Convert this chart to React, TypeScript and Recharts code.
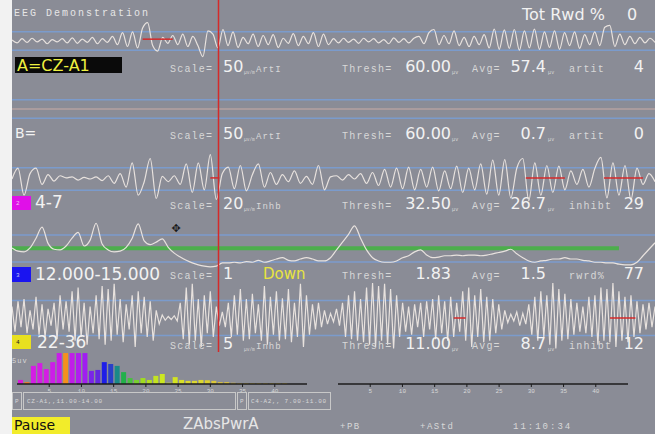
import React from 'react';
import { LineChart, Line, XAxis, YAxis, ReferenceLine, BarChart, Bar, Cell } from 'recharts';

const BG = '#8a8c96';
const BLUE = '#7b9bcc';
const RED = '#d42a2a';
const TRACE = '#e8e2de';
const LIGHT = '#d8d8d8';
const SANS = '"DejaVu Sans", sans-serif';
const MONO = '"Liberation Mono", monospace';

// raw EEG, channel A (uV), one sample every ~5px
const traceA = [
  2, -4, 5, -3, 6, -2, 4, -6, 3, -2, 5, -4, 7, -5, 4, -3, 8, -6, 5, -3,
  10, -8, 18, -12, 20, -15, 28,
  40, -10, -22, 8, -5, 12, -8, 15, -12, 10, -10, -34, 22, 15, -15, 25, -10, 20, -14, 8,
  -6, 15, -12, 12, -8, 14, -14, 6, -5, 16, -10, 10, -6, 18, -12, 15, -8,
  5, -4, 6, -3, 4, -5, 6, -2, 5, -4, 3, -6, 7, -3, 5, -4, 6,
  10, -6, 18, 25, -8, 12, -6, 22, -10, 8, -12, 10, -8, 14, -15, 26, -18, 24, -16, 25,
  -20, 22, -15, 26, -18, 20, -14, 22, -18, 18, -10, 20, -16, 14, -8, 20, -10, 30, 34, -12,
  15, -8, 10, -6, 8, -4, 6, -3,
];
// channel B is flat
const traceB = [0, 0, 0, 0, 0, 0];
// 4-7 Hz filtered, one sample every ~6px
const traceTheta = [
  0, 20, -30, 10, 20, -10, 8, -4, 6, 2,
  4, -2, 3, 0, 4, -3, 6, -8, 10, -15,
  30, -30, -5, 38, -36, 5, -5, 6, -10, 28,
  -25, 30, -20, 45, -38, 10, 22, -18, 25, -22,
  8, 28, -15, 12, -10, 8, -5, 15, -8, 5,
  -10, 25, -20, 4, 6, -2, 8, 0, 10, -8,
  12, -12, 18, -15, 20, -18, 22, -20, 18, -15,
  22, -22, 15, -18, 24, -25, 20, -20, 28, -28,
  35, -30, 36, -35, 20, 38, -40, 30, -30, 25,
  -25, 24, -20, 15, -10, 18, -15, 20, 40, -35,
  30, -30, 25, -38, 20, -10, 10, -5,
];
// 12-15 Hz magnitude, one sample every ~6px
const traceSmr = [
  1.85, 1.6, 1.55, 1.85, 2.6, 3.45, 2.2, 1.75, 1.7, 2.0,
  2.6, 3.05, 2.0, 2.45, 3.75, 2.15, 1.7, 1.55, 1.6, 1.9,
  2.6, 3.7, 2.4, 2.1, 2.3, 2.55, 1.9, 1.45, 1.15, 0.9,
  0.7, 0.55, 0.45, 0.4, 0.45, 0.7, 0.7, 0.75, 0.7, 0.8,
  0.75, 0.9, 0.75, 0.85, 1.0, 1.1, 0.9, 0.85, 1.0, 1.1,
  1.0, 0.85, 0.85, 1.1, 1.7, 2.3, 2.9, 3.55, 2.6, 1.7,
  1.1, 0.85, 0.75, 0.75, 0.85, 1.1, 1.25, 1.55, 1.7, 1.3,
  1.1, 1.15, 1.25, 1.25, 1.3, 1.25, 1.3, 1.3, 1.25, 1.3,
  1.4, 1.5, 1.6, 1.75, 1.4, 1.1, 0.85, 0.75, 0.85, 0.9,
  1.0, 1.0, 1.1, 1.0, 1.0, 0.9, 0.85, 0.75, 0.75, 0.7,
  0.7, 0.6, 0.55, 0.55, 0.75, 1.25, 1.75, 2.25,
];
// 22-36 Hz filtered, one sample every 3px
const traceBeta = [
  15, -18, 22, -12, 25, -20, 10, -15, 28, -22,
  18, -25, 12, -10, 20, -28, 30, -15, 22, -18,
  35, -30, 40, -25, 20, -35, 15, -20, 30, -28,
  42, -35, 38, -30, 45, -22, 25, -32, 18, -15,
  30, -38, 35, -20, 28, -25, 22, -30, 10, -8,
  4, -3, 2, -2, 3, -4, 20, -28, 40, -35,
  45, -30, 25, -38, 30, -20, 35, -25, 15, -10,
  8, -12, 20, -25, 30, -22, 38, -30, 25, -28,
  32, -20, 18, -30, 42, -35, 28, -22, 35, -30,
  26, -28, 38, -32, 20, -25, 45, -38, 30, -22,
  18, -15, 20, -12, 10, -8, 6, -5, 12, -10,
  20, -25, 30, -28, 35, -30, 25, -32, 40, -35,
  46, -38, 42, -30, 45, -35, 38, -40, 30, -25,
  20, -18, 15, -22, 18, -12, 20, -25, 22, -15,
  25, -28, 30, -20, 22, -30, 28, -25, 20, -18,
  35, -30, 40, -38, 30, -25, 38, -32, 28, -30,
  25, -20, 18, -15, 10, -6, 5, -4, 8, -10,
  6, -8, 18, -22, 28, -30, 35, -25, 30, -35,
  46, -40, 38, -30, 32, -28, 25, -22, 20, -18,
  15, -20, 28, -25, 30, -35, 40, -30, 38, -32,
  46, -38, 35, -30, 28, -32, 30, -25, 22, -20,
  18, -15, 20, -12, 15,
];

// spectrum, 1 Hz bins (uV)
const specBins = [
  1, 2, 3, 4, 5, 6, 7, 8, 9, 10, 11, 12, 13, 14, 15, 16, 17, 18, 19, 20, 21,
  22, 23, 24, 25, 26, 27, 28, 29, 30, 31, 32, 33, 34, 35, 36, 37, 38, 39, 40, 41, 42,
];
const specA = [
  0.65, 0.3, 2.9, 3.35, 2.4, 3.5, 4.95, 4.95, 4.95, 4.95, 4.95, 2.1, 2.25, 3.5, 3.2, 2.9, 1.9,
  0.95, 0.65, 0.95, 0.65, 1.3, 1.6, 0.2, 1.1, 0.65, 0.5, 0.5, 0.65, 0.6, 0.5, 0.3, 0.3, 0.2,
  0.15, 0.15, 0.15, 0.15, 0.15, 0.15, 0.15, 0.15,
];
const specB = [
  0, 0, 0, 0, 0, 0, 0, 0, 0, 0, 0, 0, 0, 0, 0, 0, 0, 0, 0, 0, 0,
  0, 0, 0, 0, 0, 0, 0, 0, 0, 0, 0, 0, 0, 0, 0, 0, 0, 0, 0, 0, 0,
];
const specTicks = [5, 10, 15, 20, 25, 30, 35, 40];
const binColors = [
  '#d81ad8', '#f07a28', '#d41ee4', '#d41ee4', '#d41ee4', '#cc1ee8', '#c81ee8', '#f5901e',
  '#c01ee8', '#b01ef0', '#a01ef0', '#7a24e8', '#6428e0', '#1e1ee8', '#2a40c8', '#1a8a88',
  '#22b04a', '#48c040', '#78d030', '#a0dc20', '#b4e020', '#c4e420', '#cce820', '#d0e420',
  '#d4e420', '#d8e028', '#dcd830', '#dcd830', '#dcd830', '#dcd030', '#dcc838', '#d8c040',
  '#d8c040', '#d8c048', '#d4bc50', '#d4bc50', '#d4bc50', '#d4bc50', '#d4bc50', '#d4bc50',
  '#d4bc50', '#d4bc50',
];

// per-channel readouts
const rowNames = ['A=CZ-A1', 'B=', '4-7', '12.000-15.000', '22-36'];
const rowScales = ['50', '50', '20', '1', '5'];
const rowScaleUnits = ['ArtI', 'ArtI', 'Inhb', '', 'Inhb'];
const rowThresh = ['60.00', '60.00', '32.50', '1.83', '11.00'];
const rowAvg = ['57.4', '0.7', '26.7', '1.5', '8.7'];
const rowCountLabels = ['artit', 'artit', 'inhibt', 'rwrd%', 'inhibt'];
const rowCounts = ['4', '0', '29', '77', '12'];
const rowBaselines = [72, 139, 209, 279, 349];

type Seg = [number, number, number];

function Trace(props: {
  values: number[];
  top: number;
  height: number;
  domain: [number, number];
  guides: number[];
  marks?: Seg[];
  band?: Seg;
  color?: string;
  type?: 'monotone' | 'linear';
}) {
  const { values, top, height, domain, guides, marks = [], band, color = TRACE, type = 'monotone' } = props;
  const data = values.map((v, i) => ({ i, v }));
  return (
    <div style={{ position: 'absolute', left: 12, top, width: 643, height }}>
      <LineChart width={643} height={height} data={data} margin={{ top: 0, right: 0, bottom: 0, left: 0 }}>
        <XAxis dataKey="i" type="number" domain={[0, values.length - 1]} hide />
        <YAxis type="number" domain={domain} allowDataOverflow hide />
        {guides.map((g) => (
          <ReferenceLine key={g} y={g} stroke={BLUE} strokeWidth={1.5} />
        ))}
        {band && (
          <ReferenceLine
            segment={[{ x: band[0], y: band[2] }, { x: band[1], y: band[2] }]}
            stroke="#4cae4c"
            strokeWidth={4}
          />
        )}
        <Line type={type} dataKey="v" stroke={color} strokeWidth={1.2} dot={false} isAnimationActive={false} />
        {marks.map((m, k) => (
          <ReferenceLine
            key={k}
            segment={[{ x: m[0], y: m[2] }, { x: m[1], y: m[2] }]}
            stroke={RED}
            strokeWidth={1.5}
          />
        ))}
      </LineChart>
    </div>
  );
}

function Spectrum({ left, values }: { left: number; values: number[] }) {
  const data = specBins.map((f, k) => ({ f: f - 0.5, p: values[k] }));
  return (
    <div style={{ position: 'absolute', left, top: 349, width: 290, height: 47 }}>
      <BarChart width={290} height={47} data={data} margin={{ top: 0, right: 0, bottom: 0, left: 0 }}>
        <XAxis
          dataKey="f"
          type="number"
          domain={[0, 45]}
          ticks={specTicks}
          interval={0}
          height={12}
          axisLine={{ stroke: '#1c1c1c', strokeWidth: 1.5 }}
          tickLine={{ stroke: '#1c1c1c' }}
          tickSize={3}
          tick={{ fontSize: 6, fill: LIGHT, fontFamily: MONO }}
        />
        <YAxis type="number" domain={[0, 5.6]} hide />
        <Bar dataKey="p" barSize={5} isAnimationActive={false}>
          {data.map((d, k) => (
            <Cell key={k} fill={binColors[k]} />
          ))}
        </Bar>
      </BarChart>
    </div>
  );
}

function Mono({ x, y, children, size = 10, ls = 1.2, fill = LIGHT }: any) {
  return (
    <text x={x} y={y} fontFamily={MONO} fontSize={size} letterSpacing={ls} fill={fill}>
      {children}
    </text>
  );
}

function Big({ x, y, children, size = 16, fill = '#f2f2f2', anchor = 'start' }: any) {
  return (
    <text x={x} y={y} fontFamily={SANS} fontSize={size} fill={fill} textAnchor={anchor}>
      {children}
    </text>
  );
}

function Readout({ k }: { k: number }) {
  const y = rowBaselines[k];
  const hasUnit = rowScaleUnits[k] !== '';
  return (
    <g>
      <Mono x={170} y={y}>Scale=</Mono>
      <Big x={223} y={y}>{rowScales[k]}</Big>
      {hasUnit && (
        <>
          <Mono x={244} y={y + 2} size={4.5} ls={0}>µv/m</Mono>
          <Mono x={256} y={y} size={9} ls={1}>{rowScaleUnits[k]}</Mono>
        </>
      )}
      <Mono x={342} y={y}>Thresh=</Mono>
      <Big x={451} y={y} anchor="end">{rowThresh[k]}</Big>
      {hasUnit && <Mono x={452} y={y + 2} size={5} ls={0.3}>µv</Mono>}
      <Mono x={472} y={y}>Avg=</Mono>
      <Big x={546} y={y} anchor="end">{rowAvg[k]}</Big>
      {hasUnit && <Mono x={548} y={y + 2} size={5} ls={0.3}>µv</Mono>}
      <Mono x={569} y={y}>{rowCountLabels[k]}</Mono>
      <Big x={644} y={y} anchor="end">{rowCounts[k]}</Big>
    </g>
  );
}

export default function App() {
  return (
    <div style={{ position: 'absolute', left: 0, top: 0, width: 655, height: 434, background: '#f2f2f2', overflow: 'hidden' }}>
      <div style={{ position: 'absolute', left: 12, top: 0, width: 643, height: 434, background: BG }} />

      <Trace values={traceA} top={18} height={46} domain={[-50, 50]} guides={[20, -20]} marks={[[26, 32, 4]]} />
      <Trace values={traceB} top={86} height={46} domain={[-50, 50]} guides={[20, -20]} color="#c9aca6" />
      <Trace
        values={traceTheta}
        top={152}
        height={54}
        domain={[-50, 50]}
        guides={[21, -21]}
        marks={[[33, 34.5, 2], [85.5, 92, 2], [98.5, 105, 2]]}
      />
      <Trace values={traceSmr} top={220} height={52} domain={[0, 4]} guides={[2.85, 0.77]} band={[0, 101, 1.83]} />
      <Trace
        values={traceBeta}
        top={280}
        height={76}
        domain={[-50, 50]}
        guides={[23, -23]}
        marks={[[147, 151, 0], [199, 207.5, 0]]}
        type="linear"
      />

      <Spectrum left={17} values={specA} />
      <Spectrum left={338} values={specB} />

      <svg width={655} height={434} style={{ position: 'absolute', left: 0, top: 0 }}>
        <line x1={218.5} y1={0} x2={218.5} y2={352} stroke={RED} strokeWidth={1.5} />

        <Mono x={14} y={16} ls={2} fill="#e6e6e6">EEG Demonstration</Mono>
        <Big x={522} y={20}>Tot Rwd %</Big>
        <Big x={627} y={20}>0</Big>

        <rect x={15} y={57} width={107} height={16} fill="#0a0a0a" />
        <Big x={17} y={71} size={16} fill="#eef040">{rowNames[0]}</Big>
        <Big x={15} y={138} size={14}>{rowNames[1]}</Big>

        <rect x={12} y={196} width={19} height={14} fill="#e010e8" />
        <Mono x={16} y={205} size={6} fill="#f0c0f0">2</Mono>
        <Big x={35} y={208} size={17}>{rowNames[2]}</Big>

        <rect x={12} y={267} width={19} height={15} fill="#1a14f0" />
        <Mono x={16} y={277} size={6} fill="#c0c0f0">3</Mono>
        <Big x={35} y={280} size={17}>{rowNames[3]}</Big>
        <Big x={263} y={279} size={15} fill="#e8e440">Down</Big>

        <rect x={12} y={335} width={19} height={14} fill="#e8e020" />
        <Mono x={16} y={344} size={6} fill="#202020">4</Mono>
        <Big x={37} y={348} size={17}>{rowNames[4]}</Big>

        {rowNames.map((_, k) => (
          <Readout key={k} k={k} />
        ))}

        <text x={176} y={232} fontFamily={SANS} fontSize={11} fill="#1a1a1a" textAnchor="middle">✥</text>

        <Mono x={12} y={363} size={7} ls={1}>5uv</Mono>

        <rect x={12.5} y={392.5} width={9} height={17} fill="none" stroke="#c8c8c8" />
        <rect x={23.5} y={392.5} width={212} height={17} fill="none" stroke="#c8c8c8" />
        <rect x={237.5} y={392.5} width={9} height={17} fill="none" stroke="#c8c8c8" />
        <rect x={248.5} y={392.5} width={82} height={17} fill="none" stroke="#c8c8c8" />
        <Mono x={15} y={403} size={6} ls={0.5}>P</Mono>
        <Mono x={27} y={403} size={6} ls={0.6}>CZ-A1,,11.00-14.00</Mono>
        <Mono x={240} y={403} size={6} ls={0.5}>P</Mono>
        <Mono x={251} y={403} size={6} ls={0.6}>C4-A2,, 7.00-11.00</Mono>

        <rect x={12} y={417} width={58} height={17} fill="#f2ec2a" />
        <Big x={14} y={430} size={14} fill="#111">Pause</Big>
        <Big x={183} y={429} size={15} fill="#e6e6e6">ZAbsPwrA</Big>
        <Mono x={340} y={429} size={9} ls={1.5}>+PB</Mono>
        <Mono x={420} y={429} size={9} ls={1.5}>+AStd</Mono>
        <Mono x={513} y={429} size={9} ls={2}>11:10:34</Mono>
      </svg>
    </div>
  );
}
